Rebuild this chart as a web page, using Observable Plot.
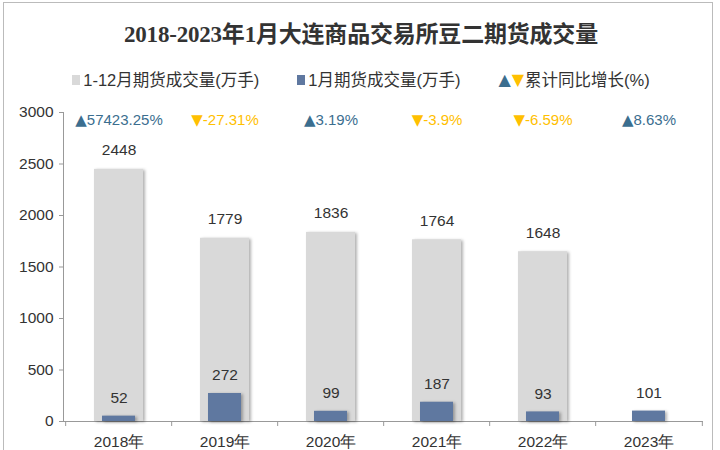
<!DOCTYPE html>
<html>
<head>
<meta charset="utf-8">
<script src="https://cdn.jsdelivr.net/npm/d3@7"></script>
<script src="https://cdn.jsdelivr.net/npm/@observablehq/plot@0.6"></script>
<style>
  html, body { margin: 0; padding: 0; background: #fff; width: 720px; height: 450px; overflow: hidden; }
  #frame { position: absolute; left: 3px; top: 2px; width: 708px; height: 470px; border: 1px solid #bbb; }
  #title { position: absolute; left: 0; top: 20px; width: 722px; text-align: center; font-family: "Liberation Serif", "Noto Sans CJK SC", serif; font-weight: bold; font-size: 23px; line-height: 30px; color: #333; letter-spacing: -0.2px; }
  #legend { position: absolute; left: 0; top: 68px; width: 722px; display: flex; justify-content: center; align-items: center; font-family: "Liberation Sans", "Noto Sans CJK SC", sans-serif; font-size: 16.5px; line-height: 24px; color: #333; }
  .item { display: flex; align-items: center; margin: 0 19px; }
  .sw { display: inline-block; width: 8px; height: 10px; margin-right: 3px; }
  .tri { font-family: "DejaVu Sans", sans-serif; font-size: 16px; margin-right: 1px; }
  #chart { position: absolute; left: 0; top: 100px; }
</style>
</head>
<body>
<div id="frame"></div>
<div id="title">2018-2023年1月大连商品交易所豆二期货成交量</div>
<div id="legend"></div>
<div id="chart"></div>
<script>
const years = ["2018年", "2019年", "2020年", "2021年", "2022年", "2023年"];
const totalVolume = [2448, 1779, 1836, 1764, 1648, null];
const janVolume = [52, 272, 99, 187, 93, 101];
const growth = [57423.25, -27.31, 3.19, -3.9, -6.59, 8.63];
const growthLabels = ["57423.25%", "-27.31%", "3.19%", "-3.9%", "-6.59%", "8.63%"];
const yTicks = [0, 500, 1000, 1500, 2000, 2500, 3000];
const legendLabels = ["1-12月期货成交量(万手)", "1月期货成交量(万手)", "累计同比增长(%)"];

const grayColor = "#D9D9D9";
const blueColor = "#5F78A0";
const upColor = "#3B6E8F";
const downColor = "#FFC000";

const rows = years.map((y, i) => ({year: y, total: totalVolume[i], jan: janVolume[i], g: growth[i], gl: growthLabels[i]}));
const totalRows = rows.filter(d => d.total != null);

// legend
const legend = document.getElementById("legend");
legend.innerHTML =
  `<span class="item"><span class="sw" style="background:${grayColor}"></span>${legendLabels[0]}</span>` +
  `<span class="item"><span class="sw" style="background:${blueColor}"></span>${legendLabels[1]}</span>` +
  `<span class="item"><span class="tri" style="color:${upColor}">▲</span><span class="tri" style="color:${downColor}">▼</span>${legendLabels[2]}</span>`;

const W = 720, H = 350, mL = 63, mR = 17, mT = 12, mB = 29;
const step = (W - mL - mR) / years.length;

const chart = Plot.plot({
  width: W, height: H,
  marginTop: mT, marginLeft: mL, marginRight: mR, marginBottom: mB,
  style: {fontFamily: "Liberation Sans, Arial, sans-serif", fontSize: "15px", color: "#333", background: "transparent"},
  x: {domain: years, paddingInner: 0.54, paddingOuter: 0.27, label: null},
  y: {domain: [0, 3000], label: null},
  marks: [
    Plot.axisY({ticks: yTicks, tickFormat: d3.format("d"), tickSize: 4, tickPadding: 6, stroke: "#999", fill: "#333", fontSize: 15.5, label: null}),
    Plot.axisX({tickSize: 0, tickPadding: 14, fill: "#333", fontSize: 15.5, label: null}),
    Plot.ruleY([0], {stroke: "#999"}),
    Plot.frame({anchor: "left", stroke: "#999"}),
    Plot.ruleX(years, {x: d => d, y1: 0, y2: 0, insetBottom: -5, dx: -step / 2, stroke: "#999"}),
    Plot.ruleX([years[years.length - 1]], {x: d => d, y1: 0, y2: 0, insetBottom: -5, dx: step / 2, stroke: "#999"}),
    Plot.barY(totalRows, {x: "year", y: "total", fill: grayColor}),
    Plot.barY(rows, {x: "year", y: "jan", fill: blueColor, insetLeft: 8, insetRight: 8}),
    Plot.text(totalRows, {x: "year", y: "total", text: d => String(d.total), dy: -19, fill: "#333", fontSize: 15.5}),
    Plot.text(rows, {x: "year", y: "jan", text: d => String(d.jan), dy: -18, fill: "#333", fontSize: 15.5}),
    Plot.text(rows.filter(d => d.g >= 0), {x: "year", frameAnchor: "top", lineAnchor: "middle", text: d => "▲" + d.gl, dy: 8, fill: upColor, fontSize: 15}),
    Plot.text(rows.filter(d => d.g < 0), {x: "year", frameAnchor: "top", lineAnchor: "middle", text: d => "▼" + d.gl, dy: 8, fill: downColor, fontSize: 15})
  ]
});
document.getElementById("chart").appendChild(chart);
chart.querySelectorAll('g[aria-label="bar"]').forEach(g => {
  g.style.filter = "drop-shadow(2px 1px 1.5px rgba(0,0,0,0.3))";
});
// enlarge triangle glyphs in growth labels
chart.querySelectorAll('g[aria-label="text"] text').forEach(t => {
  const s = t.textContent;
  if (s[0] === "▲" || s[0] === "▼") {
    t.textContent = "";
    const a = document.createElementNS("http://www.w3.org/2000/svg", "tspan");
    a.textContent = s[0];
    a.setAttribute("font-family", "DejaVu Sans");
    a.setAttribute("font-size", "15");
    const b = document.createElementNS("http://www.w3.org/2000/svg", "tspan");
    b.textContent = s.slice(1);
    t.appendChild(a);
    t.appendChild(b);
  }
});
</script>
</body>
</html>
